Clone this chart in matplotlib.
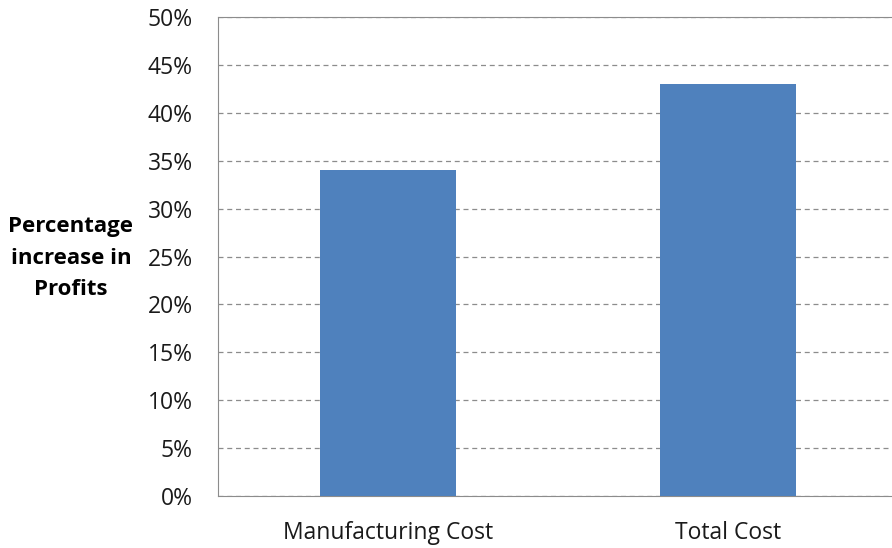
import matplotlib.pyplot as plt
from matplotlib.ticker import PercentFormatter

categories = ['Manufacturing Cost', 'Total Cost']
increase = [34, 43]
yticks = [0, 5, 10, 15, 20, 25, 30, 35, 40, 45, 50]

plt.rcParams['font.family'] = ['Open Sans', 'DejaVu Sans']

fig = plt.figure(figsize=(8.92, 5.48), dpi=100)
ax = fig.add_axes([218/892, 1-496/548, 680/892, 479/548])

ax.bar(range(len(categories)), increase, width=0.4, color='#4F81BD', zorder=3)
ax.set_xlim(-0.5, 1.5)
ax.set_ylim(0, 50)
ax.set_yticks(yticks)
ax.yaxis.set_major_formatter(PercentFormatter(decimals=0))
ax.set_xticks(range(len(categories)))
ax.set_xticklabels(categories)
ax.tick_params(length=0, labelsize=16.5, colors='#1a1a1a')
ax.tick_params(axis='y', pad=18)
ax.tick_params(axis='x', pad=18)

ax.grid(axis='y', color='#8c8c8c', linestyle=(0, (4, 3)), linewidth=0.9, zorder=0)
for s in ['left', 'bottom', 'top']:
    ax.spines[s].set_color('#8c8c8c')
ax.spines['right'].set_visible(False)

fig.text(71/892, 1-258/548, 'Percentage\nincrease in\nProfits', ha='center', va='center',
         fontsize=16, fontweight='bold', linespacing=1.65)

fig.savefig('out.png', dpi=100)
